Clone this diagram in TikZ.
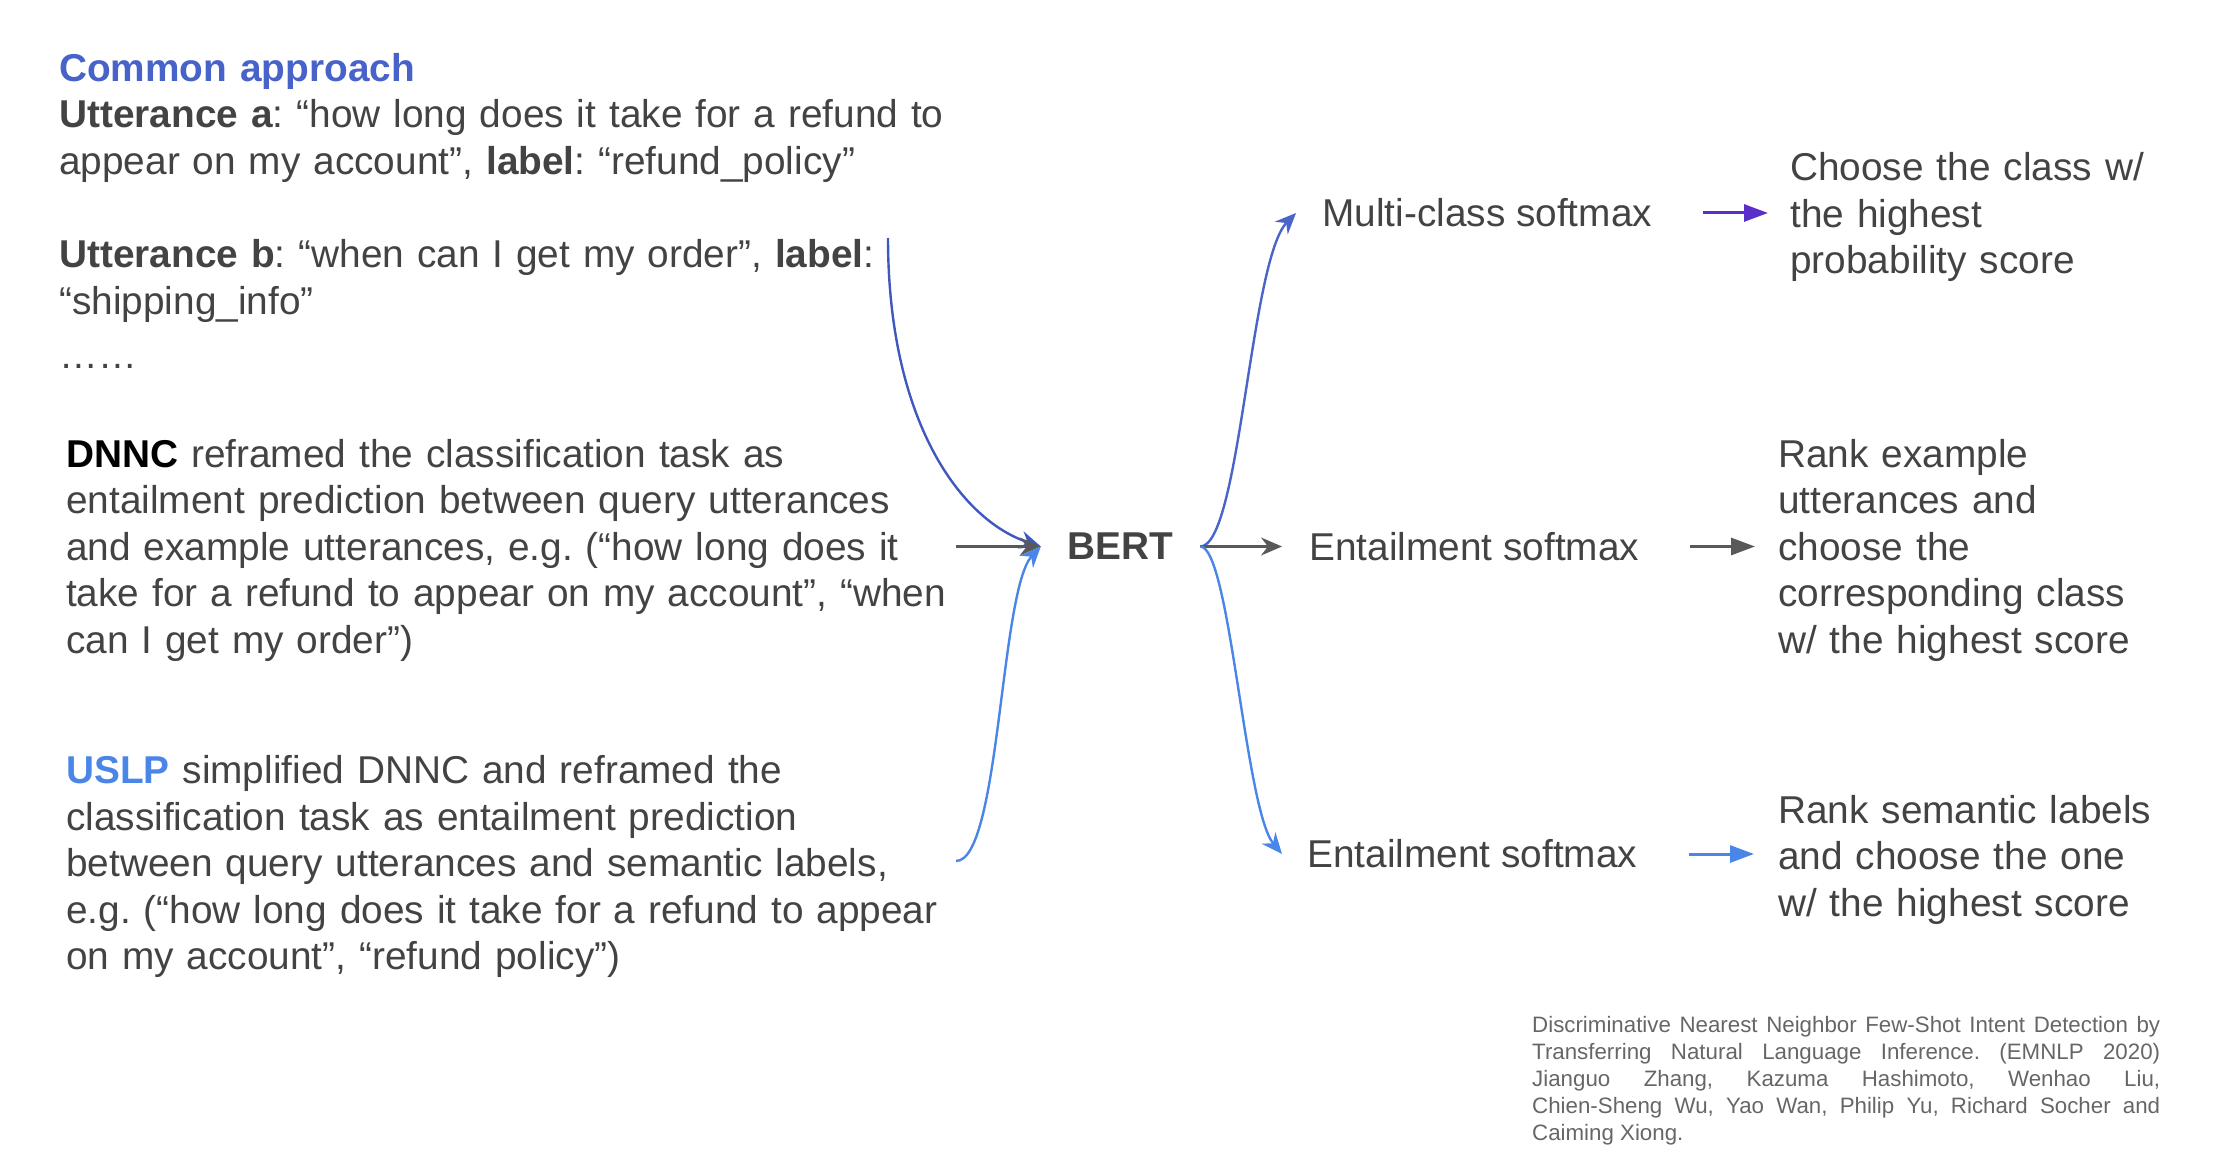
\documentclass[tikz,border=0pt]{standalone}
\usepackage{fontspec}
\setmainfont{Liberation Sans}
\usetikzlibrary{arrows.meta}
\definecolor{textgray}{HTML}{434343}
\definecolor{cablue}{HTML}{4762C8}
\definecolor{uslpblue}{HTML}{4A86E8}
\definecolor{curvedark}{HTML}{3F58C0}
\definecolor{curvemid}{HTML}{4A64C8}
\definecolor{arrowgray}{HTML}{595959}
\definecolor{arrowpurple}{HTML}{5B2ECC}
\definecolor{citegray}{HTML}{666666}
\frenchspacing
\begin{document}
\begin{tikzpicture}[x=1pt,y=-1pt,
  body/.style={font=\frenchspacing\fontsize{38.8}{46.6}\selectfont, text=textgray, inner sep=0pt, anchor=base west, align=left},
  lbl/.style={font=\fontsize{38.8}{46.6}\selectfont, text=textgray, inner ysep=0pt, anchor=west},
  stealthhead/.style={-{Stealth[length=21pt,width=18pt,inset=7pt]}},
  curvedarkarr/.style={stealthhead, draw=curvedark, line width=2.4pt},
  curvemidarr/.style={stealthhead, draw=curvemid, line width=2.4pt},
  curvelightarr/.style={stealthhead, draw=uslpblue, line width=2.4pt},
  grayarr/.style={stealthhead, draw=arrowgray, line width=2.6pt},
  tripurple/.style={-{Triangle[length=24pt,width=17pt]}, draw=arrowpurple, line width=3pt},
  trigray/.style={-{Triangle[length=24pt,width=17pt]}, draw=arrowgray, line width=3pt},
  triblue/.style={-{Triangle[length=24pt,width=17pt]}, draw=uslpblue, line width=3pt}]
\useasboundingbox (0,0) rectangle (2214,1166);

% left texts
\node[body, text width=950pt] (common) at (59,81.4)
  {\textbf{\color{cablue}Common approach}\\
   \textbf{Utterance a}: “how long does it take for a refund to\\
   appear on my account”, \textbf{label}: “refund\_policy”\\[46.6pt]
   \textbf{Utterance b}: “when can I get my order”, \textbf{label}:\\
   “shipping\_info”\\[8pt]
   ……};

\node[body, text width=950pt] (dnnc) at (66,467)
  {\textbf{\color{black}DNNC} reframed the classification task as\\
   entailment prediction between query utterances\\
   and example utterances, e.g. (“how long does it\\
   take for a refund to appear on my account”, “when\\
   can I get my order”)};

\node[body, text width=950pt] (uslp) at (66,783.5)
  {\textbf{\color{uslpblue}USLP} simplified DNNC and reframed the\\
   classification task as entailment prediction\\
   between query utterances and semantic labels,\\
   e.g. (“how long does it take for a refund to appear\\
   on my account”, “refund policy”)};

% BERT
\node[font=\bfseries\fontsize{38.8}{46.6}\selectfont, text=textgray, inner sep=0pt, minimum width=159pt] (bert) at (1120.5,546.5) {BERT};

% middle labels
\node[lbl, inner xsep=26pt] (mc) at (1296,213) {Multi-class softmax};
\node[lbl, inner xsep=27pt] (ent1) at (1282,546.5) {Entailment softmax};
\node[lbl, inner xsep=25pt] (ent2) at (1282,854) {Entailment softmax};

% right texts
\node[body, text width=420pt] (choose) at (1790,180.6)
  {Choose the class w/\\ the highest\\ probability score};
\node[body, text width=420pt] (rankex) at (1778,467)
  {Rank example\\ utterances and\\ choose the\\ corresponding class\\ w/ the highest score};
\node[body, text width=420pt] (ranksem) at (1778,823)
  {Rank semantic labels\\ and choose the one\\ w/ the highest score};

% citation
\node[font=\frenchspacing\fontsize{22.3}{27.1}\selectfont, text=citegray, inner sep=0pt, anchor=base west, text width=628pt, align=justify] (cite) at (1532,1032)
  {\tolerance=10000\hbadness=10000\hyphenpenalty=10000
   Discriminative Nearest Neighbor Few-Shot Intent Detection by\linebreak
   Transferring Natural Language Inference. (EMNLP 2020)\linebreak
   Jianguo Zhang, Kazuma Hashimoto, Wenhao Liu,\linebreak
   Chien-Sheng Wu, Yao Wan, Philip Yu, Richard Socher and\linebreak
   Caiming Xiong.};

% connectors into BERT
\coordinate (ubstart) at (888,238);
\coordinate (dnstart) at (956,546.5);
\coordinate (usstart) at (956,861);
\draw[curvedarkarr] (ubstart) .. controls (888,420) and (960,520) .. (bert.west);
\draw[grayarr] (dnstart) -- (bert.west);
\draw[curvelightarr] (usstart) .. controls (1000,861) and (1000,590) .. (bert.west);

% connectors out of BERT
\draw[curvemidarr] (bert.east) .. controls (1240,546.5) and (1250,260) .. (mc.west);
\draw[grayarr] (bert.east) -- (ent1.west);
\draw[curvelightarr] (bert.east) .. controls (1230,546.5) and (1245,810) .. (ent2.west);

% right arrows
\coordinate (pas) at (1703,213);
\coordinate (pae) at (1768,213);
\coordinate (gas) at (1690,546.5);
\coordinate (gae) at (1755,546.5);
\coordinate (bas) at (1689,854);
\coordinate (bae) at (1754,854);
\draw[tripurple] (pas) -- (pae);
\draw[trigray] (gas) -- (gae);
\draw[triblue] (bas) -- (bae);
\end{tikzpicture}
\end{document}
